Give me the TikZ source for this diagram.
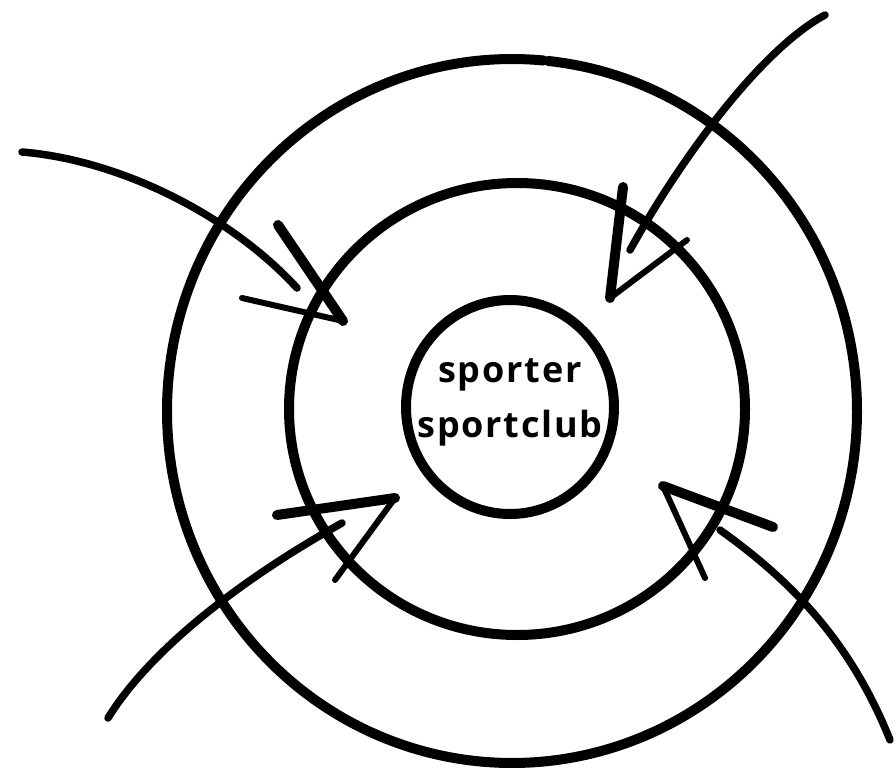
\documentclass[tikz,border=0pt]{standalone}
\usepackage{fontspec}
\setmainfont{Open Sans}[LetterSpace=5]
\begin{document}
\begin{tikzpicture}[x=1pt,y=-1pt,
  ring/.style={line width=10pt, line cap=round, line join=round},
  shaft/.style={line width=7.5pt, line cap=round},
  barbthick/.style={line width=10pt, line cap=round, line join=round},
  barbthin/.style={line width=6pt, line cap=round, line join=round},
  lbl/.style={font=\fontsize{36}{40}\selectfont\bfseries, anchor=base, inner sep=0pt}]
\useasboundingbox (0,0) rectangle (896,773);
% rings
\draw[ring] plot[domain=-84:275.3, samples=240, smooth] ({512+345*cos(\x)}, {411+352*sin(\x)});
\draw[ring] (517,409) ellipse [x radius=228, y radius=226];
\draw[ring] (510,407) ellipse [x radius=104, y radius=107];
% labels
\node[lbl] (lab1) at (510,382) {sporter};
\node[lbl] (lab2) at (510,437) {sportclub};
% arrow 1 (top left)
\coordinate (a1s) at (22,152);
\coordinate (a1e) at (297,288);
\coordinate (a1t) at (343,321);
\coordinate (a1b) at (278,225);
\coordinate (a1c) at (242,298);
\draw[shaft] (a1s) .. controls (120,160) and (230,215) .. (a1e);
\draw[barbthick] (a1b) -- (a1t);
\draw[barbthin] (a1c) -- (a1t);
% arrow 2 (top right)
\coordinate (a2s) at (825,15);
\coordinate (a2e) at (630,250);
\coordinate (a2t) at (610,298);
\coordinate (a2b) at (623,187);
\coordinate (a2c) at (687,240);
\draw[shaft] (a2s) .. controls (760,50) and (680,160) .. (a2e);
\draw[barbthick] (a2b) -- (a2t);
\draw[barbthin] (a2c) -- (a2t);
% arrow 3 (bottom left)
\coordinate (a3s) at (108,718);
\coordinate (a3e) at (342,523);
\coordinate (a3t) at (395,498);
\coordinate (a3b) at (277,515);
\coordinate (a3c) at (335,580);
\draw[shaft] (a3s) .. controls (150,650) and (240,580) .. (a3e);
\draw[barbthick] (a3b) -- (a3t);
\draw[barbthin] (a3c) -- (a3t);
% arrow 4 (bottom right)
\coordinate (a4s) at (890,740);
\coordinate (a4e) at (720,530);
\coordinate (a4t) at (663,486);
\coordinate (a4b) at (773,527);
\coordinate (a4c) at (705,578);
\draw[shaft] (a4s) .. controls (850,640) and (790,580) .. (a4e);
\draw[barbthick] (a4b) -- (a4t);
\draw[barbthin] (a4c) -- (a4t);
\end{tikzpicture}
\end{document}
